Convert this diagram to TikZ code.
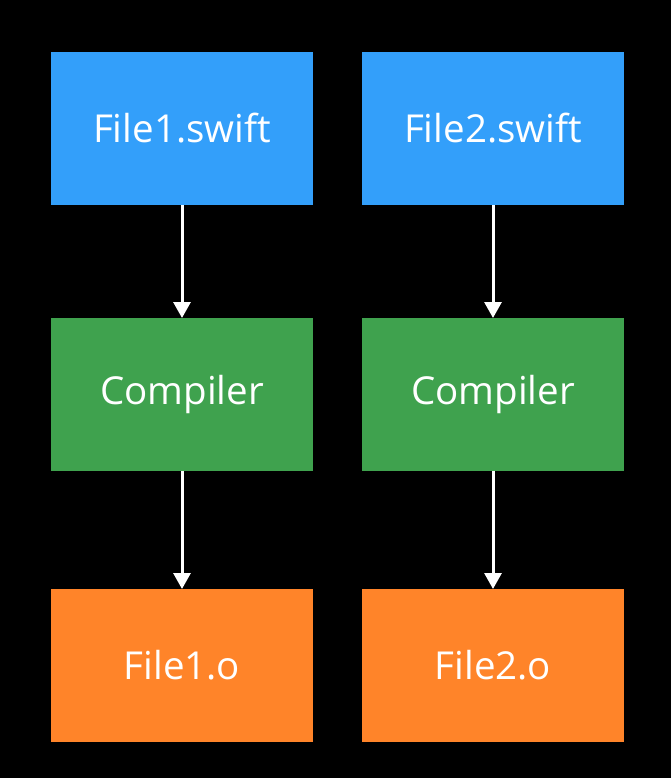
\documentclass[tikz,border=0pt]{standalone}
\usepackage{fontspec}
\setmainfont{Open Sans}
\usetikzlibrary{arrows.meta}
\definecolor{boxblue}{HTML}{339FFA}
\definecolor{boxgreen}{HTML}{3FA24E}
\definecolor{boxorange}{HTML}{FF8429}
\begin{document}
\begin{tikzpicture}[x=1pt,y=-1pt,
  box/.style={minimum width=262pt,minimum height=153pt,inner sep=0pt,outer sep=0pt,text=white,font=\fontsize{38.5}{46}\selectfont,anchor=north west},
  conn/.style={draw=white,line width=3pt,-{Triangle[width=17pt,length=16pt]}}]
\fill[black] (0,0) rectangle (671,778);
\useasboundingbox (0,0) rectangle (671,778);
\node[box,fill=boxblue] (s1) at (51,52) {File1.swift};
\node[box,fill=boxblue] (s2) at (362,52) {File2.swift};
\node[box,fill=boxgreen] (c1) at (51,318) {Compiler};
\node[box,fill=boxgreen] (c2) at (362,318) {Compiler};
\node[box,fill=boxorange] (o1) at (51,589) {File1.o};
\node[box,fill=boxorange] (o2) at (362,589) {File2.o};
\draw[conn] (s1) -- (c1);
\draw[conn] (s2) -- (c2);
\draw[conn] (c1) -- (o1);
\draw[conn] (c2) -- (o2);
\end{tikzpicture}
\end{document}
